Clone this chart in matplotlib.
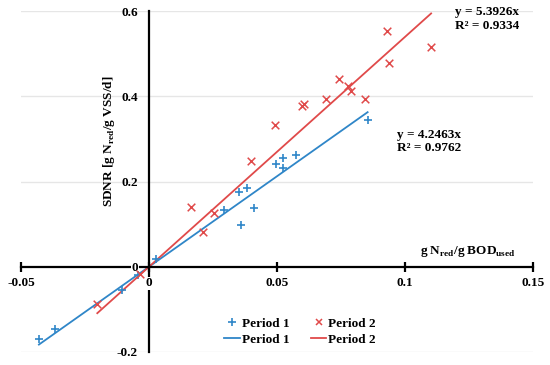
import matplotlib
matplotlib.use("Agg")
import matplotlib.pyplot as plt
import numpy as np
from matplotlib.lines import Line2D

plt.rcParams['font.family'] = ['Liberation Serif', 'DejaVu Serif']
plt.rcParams['font.weight'] = 'bold'

# Period 1 (blue +)
p1_x = [-0.0430, -0.0367, -0.0107, -0.0043, 0.0027, 0.0294, 0.0352, 0.0384,
        0.0409, 0.0359, 0.0496, 0.0525, 0.0525, 0.0573, 0.0854]
p1_y = [-0.169, -0.146, -0.054, -0.020, 0.019, 0.132, 0.175, 0.185,
        0.137, 0.099, 0.242, 0.256, 0.232, 0.261, 0.344]
# Period 2 (red x)
p2_x = [-0.0202, -0.0035, 0.0163, 0.0255, 0.0212, 0.0398, 0.0492, 0.0598,
        0.0605, 0.0691, 0.0743, 0.0776, 0.0788, 0.0844, 0.0928, 0.0939, 0.1102]
p2_y = [-0.088, -0.016, 0.141, 0.125, 0.082, 0.248, 0.332, 0.376,
        0.381, 0.393, 0.440, 0.424, 0.412, 0.393, 0.552, 0.478, 0.516]

slope1 = 4.2463
slope2 = 5.3926
r2_1 = 0.9762
r2_2 = 0.9334

xticks = [-0.05, 0, 0.05, 0.1, 0.15]
xtick_labels = ['-0.05', '0', '0.05', '0.1', '0.15']
yticks = [-0.2, 0, 0.2, 0.4, 0.6]
ytick_labels = ['-0.2', '0', '0.2', '0.4', '0.6']

blue = '#2f86c8'
red = '#e04a4a'

fig = plt.figure(figsize=(5.5, 3.65), dpi=100)
ax = fig.add_axes([21/550, 1-352/365, (533-21)/550, (352-11)/365])
ax.set_xlim(-0.05, 0.15)
ax.set_ylim(-0.2, 0.6)

for g in [-0.2, 0.2, 0.4, 0.6]:
    ax.axhline(g, color='#e6e6e6', lw=1.0, zorder=0)

ax.spines['right'].set_visible(False)
ax.spines['top'].set_visible(False)
ax.spines['left'].set_position(('data', 0))
ax.spines['bottom'].set_position(('data', 0))
ax.spines['left'].set_linewidth(1.6)
ax.spines['bottom'].set_linewidth(1.6)

ax.set_xticks(xticks)
ax.set_xticklabels(xtick_labels)
ax.set_yticks(yticks)
ax.set_yticklabels(ytick_labels)
ax.tick_params(axis='x', direction='inout', length=7, width=1.6, pad=4, labelsize=9.5)
ax.tick_params(axis='y', length=0, pad=8, labelsize=9.5)
for t in ax.get_xticklabels() + ax.get_yticklabels():
    t.set_fontweight('bold')
    if t.get_text() == '0':
        t.set_bbox(dict(facecolor='white', edgecolor='none', pad=0.5))
ax.xaxis.set_zorder(3)
ax.yaxis.set_zorder(3)

# trendlines
lx1 = np.array([min(p1_x), max(p1_x)])
lx2 = np.array([min(p2_x), max(p2_x)])
ax.plot(lx1, slope1 * lx1, color=blue, lw=1.3, zorder=2)
ax.plot(lx2, slope2 * lx2, color=red, lw=1.3, zorder=2)

ax.scatter(p1_x, p1_y, marker='+', s=40, color=blue, linewidths=1.2, zorder=4)
ax.scatter(p2_x, p2_y, marker='x', s=30, color=red, linewidths=1.1, zorder=4)

ax.text(0.1195, 0.612, f'y = {slope2}x\nR² = {r2_2}', fontsize=9.5, fontweight='bold',
        ha='left', va='top', linespacing=1.2)
ax.text(0.0970, 0.324, f'y = {slope1}x\nR² = {r2_1}', fontsize=9.5, fontweight='bold',
        ha='left', va='top', linespacing=1.2)

ax.text(-0.0158, 0.294, r'SDNR [g N$_\mathregular{red}$/g VSS/d]', rotation=90,
        ha='center', va='center', fontsize=9.5, fontweight='bold')
ax.text(0.1244, 0.035, r'g N$_\mathregular{red}$/g BOD$_\mathregular{used}$',
        ha='center', va='center', fontsize=9.5, fontweight='bold')

handles = [
    Line2D([], [], ls='none', marker='+', color=blue, ms=6, mew=1.2),
    Line2D([], [], color=blue, lw=1.3),
    Line2D([], [], ls='none', marker='x', color=red, ms=5, mew=1.1),
    Line2D([], [], color=red, lw=1.3),
]
labels = ['Period 1', 'Period 1', 'Period 2', 'Period 2']
leg = ax.legend(handles, labels, ncol=2, loc='center', bbox_to_anchor=(0.545, 0.06),
                frameon=False, handlelength=1.2, handletextpad=0.15,
                columnspacing=1.6, labelspacing=0.3, borderpad=0.2,
                prop={'weight': 'bold', 'size': 9.5})
leg.set_zorder(5)

fig.savefig('out.png', dpi=100)
